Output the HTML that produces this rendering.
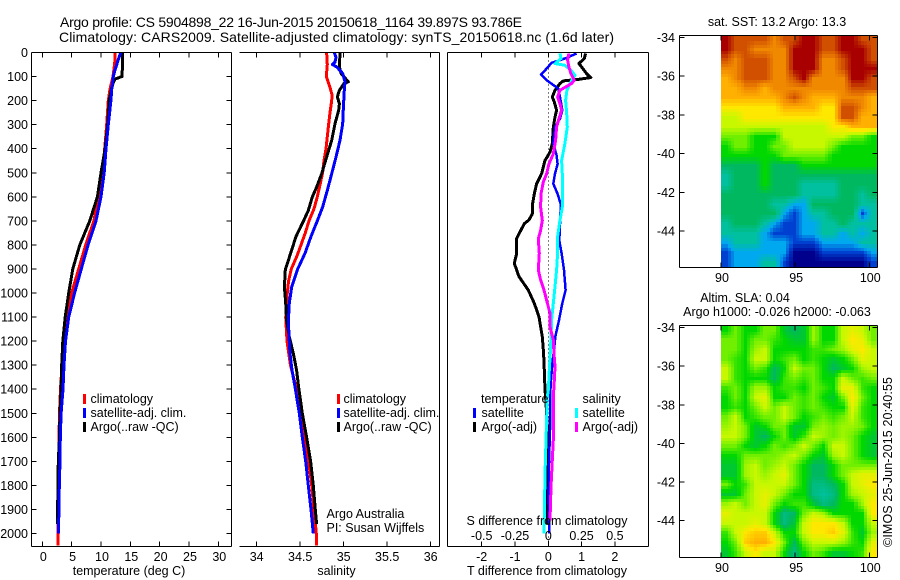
<!DOCTYPE html>
<html lang="en">
<head>
<meta charset="utf-8">
<title>Argo profile</title>
<style>
html,body{margin:0;padding:0;background:#fff;}
svg{display:block;}
text{font-family:"Liberation Sans",Arial,sans-serif;font-size:12.5px;fill:#000;}
.title{font-size:14px;}
.crisp{shape-rendering:crispEdges;}
</style>
</head>
<body>
<svg id="chart" width="900" height="580" viewBox="0 0 900 580" xmlns="http://www.w3.org/2000/svg">
  <rect x="0" y="0" width="900" height="580" fill="#fff"/>
  <text class="title" x="60" y="27" textLength="462">Argo profile: CS 5904898_22 16-Jun-2015 20150618_1164 39.897S 93.786E</text>
  <text class="title" x="59" y="42" textLength="555">Climatology: CARS2009. Satellite-adjusted climatology: synTS_20150618.nc (1.6d later)</text>

  <g id="panel-t"></g>
  <g id="panel-s"></g>
  <g id="panel-d"></g>
  <g id="panel-sst"></g>
  <g id="panel-sla"></g>

  <g>
    <rect x="83" y="394" width="3" height="10" fill="#f00"/>
    <text x="90.5" y="403">climatology</text>
    <rect x="83" y="408" width="3" height="10" fill="#00f"/>
    <text x="90.5" y="417">satellite-adj. clim.</text>
    <rect x="83" y="422" width="3" height="10" fill="#000"/>
    <text x="90.5" y="431">Argo(..raw -QC)</text>
  </g>
  <g>
    <rect x="337" y="394" width="3" height="10" fill="#f00"/>
    <text x="343.5" y="403">climatology</text>
    <rect x="337" y="408" width="3" height="10" fill="#00f"/>
    <text x="343.5" y="417">satellite-adj. clim.</text>
    <rect x="337" y="422" width="3" height="10" fill="#000"/>
    <text x="343.5" y="431">Argo(..raw -QC)</text>
  </g>
  <g>
    <text x="481" y="403">temperature</text>
    <text x="582.5" y="403">salinity</text>
    <rect x="473" y="408" width="3" height="10" fill="#00f"/>
    <text x="481.5" y="417">satellite</text>
    <rect x="473" y="422" width="3" height="10" fill="#000"/>
    <text x="481.5" y="431">Argo(-adj)</text>
    <rect x="575" y="408" width="3" height="10" fill="#0ff"/>
    <text x="582.5" y="417">satellite</text>
    <rect x="575" y="422" width="3" height="10" fill="#f0f"/>
    <text x="582.5" y="431">Argo(-adj)</text>
  </g>

  <text x="129" y="575" text-anchor="middle">temperature (deg C)</text>
  <text x="336.5" y="575" text-anchor="middle">salinity</text>
  <text x="547" y="575" text-anchor="middle">T difference from climatology</text>
  <text x="547" y="525" text-anchor="middle">S difference from climatology</text>
  <text x="326.5" y="518">Argo Australia</text>
  <text x="326.5" y="532">PI: Susan Wijffels</text>
  <text x="777" y="26" text-anchor="middle">sat. SST: 13.2 Argo: 13.3</text>
  <text x="745" y="302" text-anchor="middle">Altim. SLA: 0.04</text>
  <text x="777" y="316" text-anchor="middle">Argo h1000: -0.026 h2000: -0.063</text>
  <text x="0" y="0" transform="translate(892 547) rotate(-90)" textLength="170">©IMOS 25-Jun-2015 20:40:55</text>
</svg>
<script>
// ---------- data ----------
const depthTicks = [0,100,200,300,400,500,600,700,800,900,1000,1100,1200,1300,1400,1500,1600,1700,1800,1900,2000];
const tempTicks = [0,5,10,15,20,25,30];
const salTicks = [34,34.5,35,35.5,36];
const tDiffTicks = [-2,-1,0,1,2];
const sDiffTicks = [-0.5,-0.25,0,0.25,0.5];
const latTicks = [-34,-36,-38,-40,-42,-44];
const lonTicks = [90,95,100];

const climTempDepth = [0,25,50,100,150,200,300,400,500,600,700,800,900,1000,1100,1200,1300,1400,1500,1600,1700,1800,1900,2000,2050];
const climTempValue = [12.4,12.4,12.3,12.05,11.55,11.25,10.98,10.64,10.26,9.6,8.8,7.4,6.2,5,4.2,3.6,3.35,3.1,2.93,2.85,2.8,2.73,2.68,2.65,2.65];
const satTempDepth = [0,25,50,75,100,150,200,300,400,500,600,700,800,900,1000,1100,1200,1300,1400,1500,1600,1700,1800,1900,2000];
const satTempValue = [13.35,13,12.7,12.35,12.1,11.85,11.7,11.25,10.85,10.55,10,9.15,7.8,6.65,5.5,4.5,3.95,3.7,3.53,3.2,3.07,3.02,2.9,2.85,2.73];
const argoTempDepth = [0,50,100,110,125,150,200,300,400,500,600,700,800,900,1000,1100,1200,1300,1400,1500,1600,1700,1800,1900,1960];
const argoTempValue = [13.7,13.65,13.6,12.4,12.1,11.8,11.4,11.15,10.7,10,9.4,8.1,6.4,5.2,4.5,3.9,3.5,3.3,3.19,3,2.93,2.73,2.68,2.6,2.6];

const climSalDepth = [0,50,100,125,150,175,200,250,300,350,400,450,500,550,600,650,700,750,800,850,900,950,1000,1100,1200,1300,1400,1500,1600,1700,1800,1900,2000,2050];
const climSalValue = [34.804,34.812,34.8,34.823,34.846,34.866,34.862,34.842,34.827,34.812,34.797,34.774,34.758,34.728,34.697,34.659,34.601,34.559,34.509,34.459,34.398,34.367,34.352,34.333,34.348,34.387,34.459,34.509,34.559,34.597,34.632,34.659,34.685,34.689];
const satSalDepth = [0,20,40,50,60,87,122,157,226,296,365,435,504,574,643,696,765,835,904,974,1043,1113,1182,1251,1321,1390,1500,1600,1700,1800,1900,2000];
const satSalValue = [34.892,34.911,34.9,34.869,34.919,34.988,35.015,35.007,34.996,34.988,34.957,34.911,34.862,34.812,34.758,34.701,34.624,34.555,34.467,34.402,34.375,34.364,34.371,34.383,34.406,34.44,34.49,34.524,34.563,34.593,34.624,34.651];
const argoSalDepth = [0,60,87,122,129,157,185,212,240,296,365,435,504,560,601,657,696,765,835,904,974,1043,1113,1182,1251,1321,1390,1500,1600,1700,1800,1900,1960];
const argoSalValue = [34.957,34.95,34.969,35.053,35.003,34.95,34.927,34.95,34.942,34.9,34.862,34.804,34.747,34.689,34.639,34.593,34.544,34.452,34.39,34.329,34.318,34.333,34.344,34.375,34.421,34.459,34.482,34.524,34.574,34.62,34.651,34.674,34.689];

const diffTSatDepth = [4,25,43,67,92,115,150,185,240,275,310,379,428,463,504,546,588,629,657,782,835,904,988,1043,1113,1182,1238,1293,1363,1431,1570,1709,1848,2000];
const diffTSatValue = [0.85,0.5,0.1,-0.05,-0.22,-0.05,0.3,0.35,0.42,0.35,0.2,0.15,0.25,0.28,0.2,0.15,0.28,0.37,0.37,0.33,0.4,0.47,0.52,0.42,0.32,0.21,0.17,0.12,0.08,0.05,0.05,0.02,0,0.03];
const diffTArgoDepth = [4,25,46,60,88,104,112,118,129,157,185,206,240,268,310,379,414,449,504,546,588,629,671,696,712,738,772,835,877,932,988,1043,1099,1182,1251,1321,1404,1431,1570,1709,1848,1960];
const diffTArgoValue = [1.12,1.08,0.92,1,1.15,1.28,0.9,0.45,0.35,0.2,0.12,0.18,0.25,0.2,0.15,0.12,0.05,-0.1,-0.2,-0.35,-0.42,-0.47,-0.48,-0.58,-0.72,-0.82,-0.95,-0.95,-1.02,-0.88,-0.6,-0.42,-0.28,-0.18,-0.14,-0.12,-0.1,-0.08,-0.02,-0.01,-0.03,-0.02];
const diffSSatDepth = [4,25,46,53,74,95,122,157,199,254,310,379,449,504,574,643,696,765,835,904,974,1043,1113,1182,1251,1321,1404,1431,1570,1709,1848,2000];
const diffSSatValue = [0.0875,0.095,0.05,0.125,0.17,0.2,0.17,0.14,0.13,0.138,0.143,0.125,0.1,0.105,0.108,0.105,0.0875,0.07,0.07,0.0625,0.05,0.0375,0.025,0.02,0.015,0.0075,0,-0.0075,-0.015,-0.0225,-0.0275,-0.0325];
const diffSArgoDepth = [4,32,60,88,115,129,157,185,213,240,275,310,365,421,463,504,539,588,643,699,740,775,835,904,946,988,1029,1085,1140,1196,1251,1307,1390,1431,1612,1695,1806,1945];
const diffSArgoValue = [0.155,0.145,0.155,0.17,0.195,0.175,0.0875,0.07,0.0875,0.1,0.08,0.0625,0.055,0.0375,0.005,-0.0125,-0.0375,-0.055,-0.0575,-0.045,-0.0575,-0.075,-0.0675,-0.075,-0.0575,-0.0325,-0.0125,0.0125,0.0125,0.0375,0.0425,0.05,0.0425,0.0375,0.0375,0.03,0.02,0.0125];

const sstGrid = [
[12,11,11,11,11,10,11,11,12,12,11,11,12,12,11,11],
[12,11,11,10,10,10,10,12,12,12,11,11,12,12,12,11],
[11,10,11,11,11,10,10,12,12,12,10,10,11,12,12,11],
[10,10,11,11,11,10,10,12,12,12,10,10,11,12,12,12],
[9,10,11,11,11,10,10,11,12,10,10,10,10,12,12,11],
[9,9,10,10,9,10,10,10,10,10,10,10,10,11,11,11],
[9,9,9,9,9,9,10,11,10,9,9,9,10,10,10,9],
[8,8,8,8,8,8,9,9,9,9,8,8,11,11,10,9],
[7,7,8,8,8,8,8,8,8,8,8,8,11,11,9,9],
[7,7,7,7,7,7,7,7,7,7,7,8,8,9,9,9],
[6,6,6,5,5,5,7,7,7,7,7,7,7,6,6,5],
[5,6,6,5,5,6,6,7,7,7,7,6,5,5,5,5],
[5,5,5,5,5,5,6,6,6,6,6,5,5,5,5,5],
[4,4,4,4,5,4,4,4,5,5,5,5,5,5,5,5],
[3,4,4,4,5,4,4,4,4,4,4,4,4,4,4,4],
[3,4,4,4,5,4,4,4,3,3,3,3,4,4,4,4],
[4,4,4,4,4,4,4,4,3,3,3,3,4,4,3,4],
[4,4,4,4,4,3,3,2,2,4,4,4,4,4,3,3],
[4,4,4,4,4,4,2,1,2,3,3,4,4,4,1,3],
[3,4,4,4,3,2,1,1,2,2,3,3,4,3,3,3],
[3,3,3,3,2,1,1,1,2,2,3,3,2,3,2,3],
[2,3,3,3,2,2,2,1,1,1,2,2,2,2,3,3],
[1,2,2,2,2,2,2,0,0,0,1,1,1,1,1,2],
[1,2,2,2,3,3,1,0,0,0,0,0,0,0,0,1]
];
const slaGrid = [
[5,6,5,5,6,6,4.5,4,4.5,6.5,5,5,7,7.5,7,6],
[6,6,5,6,6,5.5,5,4.5,4.5,6.5,5,5,7,8,7.5,6],
[6,6,5,6.5,7,5,5,5,5,5.5,5.5,6,6.5,7.5,8,7],
[6,5.5,5,7,7,5,5.5,6,5,5.5,5,4.5,5,6,7.5,7],
[7,5.5,5,6,5.5,4,5,7,6,6,5,4,4.5,5,6.5,7],
[7,5.5,5,5,5,4,5.5,6,5.5,6,5,5,7,6,5.5,6],
[5.5,6,5,6.5,6.5,5,5.5,5.5,5,6,5.5,5,7.5,7.5,5.5,5],
[5,6,5,7,7.5,5,5,6,5.5,6,5,4.5,6,8,6,5],
[5,5.5,5,6,7,6,7,6,5.5,6,5.5,5,5,7.5,5.5,5],
[6,7,5,5.5,6,6,7,6,5,5.5,6,5.5,6,7,5.5,5],
[6.5,7,6,4.5,5,6,6,4.5,4.5,6,6.5,6,6.5,6.5,6,5],
[7,7,6,4.5,4,5,6,4.5,5.5,7,6.5,6,6.5,6,5,4.5],
[6,6,5,4.5,5,6,5.5,6,7,6,5,7,7,6,5,4.5],
[5,5,6,6,6,6,6.5,7,6,5,4.5,6.5,7,6,5,4.5],
[4.5,4.5,6.5,7,6,6.5,7,6,5,4,4,5,6,6,6,6],
[4.5,4.5,6.5,7,6.5,7,7.5,6,5,4,4,5,6,7,7.5,7.5],
[6,5,5.5,7,7,7,7,6,5,3.5,3.5,4,5,7,7.5,8],
[4.5,4.5,6,7,7.5,7,6,5,5,3.5,3,3.5,5,6.5,7,7.5],
[6.5,7,6,7,7.5,6,5,5.5,5.5,4.5,3.5,4,5,5,6.5,8],
[7.5,7,7,7,7,5,3.5,4,6,7,6.5,5,5,5,5,8],
[7,7,7,7.5,7,5,3.5,4.5,7,8,8,8,7,5,5,7],
[5.5,7,8,8.5,8.5,7,5,5,7,8,8,8.5,7.5,5.5,4.5,6.5],
[5,6,8.5,9,9,8,6,4,6,7,7,7,6.5,5.5,5,7.5],
[4.5,5.5,7,8,7,7,5,3.5,5,6,5.5,4.5,4.5,5,5.5,8]
];
const colourRamp = [[0,0,140],[0,64,208],[0,168,240],[0,192,160],[0,184,96],[0,216,0],[112,240,0],[200,248,0],[255,232,0],[255,176,0],[240,136,0],[208,80,0],[168,0,0]];

// ---------- scales ----------
const yDepth = d => 52.5 + d * 0.2405;
const xTemp = t => 42.3 + t * 5.867;
const xSal = s => 256.7 + (s - 34) * 87;
const xDiffT = t => 548.3 + t * 33.3;
const xDiffS = s => 548.3 + s * 133.2;
const xLon = lon => 721 + (lon - 90) * 14.83;
const ySst = lat => 37.3 + (-34 - lat) * 19.37;
const ySla = lat => 327.5 + (-34 - lat) * 19.32;

const NS = 'http://www.w3.org/2000/svg';
function make(parent, tag, attrs) {
  const el = document.createElementNS(NS, tag);
  for (const k in attrs) el.setAttribute(k, attrs[k]);
  parent.appendChild(el);
  return el;
}
function hLine(parent, x1, x2, y, name) {
  const el = make(parent, 'line', {x1: x1, x2: x2, y1: y, y2: y, stroke: '#000', 'stroke-width': 1, class: 'crisp'});
  
  
}
function vLine(parent, x, y1, y2, name) {
  const el = make(parent, 'line', {x1: x, x2: x, y1: y1, y2: y2, stroke: '#000', 'stroke-width': 1, class: 'crisp'});
  
  
}
function label(parent, x, y, str, anchor, name) {
  const el = make(parent, 'text', {x: x, y: y, 'text-anchor': anchor});
  el.textContent = str;
  
  
}
function series(parent, depths, values, xf, colour, width, name) {
  const pts = depths.map((d, i) => xf(values[i]).toFixed(1) + ',' + yDepth(d).toFixed(1)).join(' ');
  const el = make(parent, 'polyline', {points: pts, fill: 'none', stroke: colour, 'stroke-width': width, class: 'crisp', 'stroke-linejoin': 'round'});
  
  
}
function rampColour(v) {
  const lo = Math.max(0, Math.min(colourRamp.length - 1, Math.floor(v)));
  const hi = Math.min(colourRamp.length - 1, lo + 1);
  const f = Math.max(0, Math.min(1, v - lo));
  const c = colourRamp[lo].map((a, i) => Math.round(a + (colourRamp[hi][i] - a) * f));
  return 'rgb(' + c.join(',') + ')';
}
function shadedValue(grid, fr, fc) {
  const rows = grid.length, cols = grid[0].length;
  const r = Math.max(0, Math.min(rows - 1, fr - 0.5));
  const c = Math.max(0, Math.min(cols - 1, fc - 0.5));
  const r0 = Math.floor(r), c0 = Math.floor(c);
  const r1 = Math.min(rows - 1, r0 + 1), c1 = Math.min(cols - 1, c0 + 1);
  const dr = r - r0, dc = c - c0;
  return grid[r0][c0] * (1 - dr) * (1 - dc) + grid[r0][c1] * (1 - dr) * dc + grid[r1][c0] * dr * (1 - dc) + grid[r1][c1] * dr * dc;
}
function heatmap(parent, grid, yf, latTop, latBottom, lonRight, name) {
  const rows = grid.length, cols = grid[0].length, sub = 3;
  for (let r = 0; r < rows * sub; r++) {
    for (let c = 0; c < cols * sub; c++) {
      const fr = r / sub, fc = c / sub;
      const x0 = Math.round(xLon(90 + (lonRight - 90) * fc / cols));
      const x1 = Math.round(xLon(90 + (lonRight - 90) * (fc + 1 / sub) / cols));
      const y0 = Math.round(yf(latTop + (latBottom - latTop) * fr / rows));
      const y1 = Math.round(yf(latTop + (latBottom - latTop) * (fr + 1 / sub) / rows));
      const v = shadedValue(grid, fr + 0.5 / sub, fc + 0.5 / sub);
      const el = make(parent, 'rect', {x: x0, y: y0, width: x1 - x0, height: y1 - y0, fill: rampColour(v), class: 'crisp'});
      
      
    }
  }
}
function frame(parent, l, r, t, b, sides) {
  if (sides.includes('t')) hLine(parent, l, r, t, 'axis-top');
  if (sides.includes('b')) hLine(parent, l, r, b, 'axis-bottom');
  if (sides.includes('l')) vLine(parent, l, t, b, 'axis-left');
  if (sides.includes('r')) vLine(parent, r, t, b, 'axis-right');
}

// ---------- temperature panel ----------
const pT = document.getElementById('panel-t');
series(pT, climTempDepth, climTempValue, xTemp, '#f00', 3, 'line-climatology');
series(pT, argoTempDepth, argoTempValue, xTemp, '#000', 3, 'line-argo');
series(pT, satTempDepth, satTempValue, xTemp, '#00f', 3, 'line-satellite-adj');
frame(pT, 31.5, 231.5, 52.5, 546.5, 'tblr');
depthTicks.forEach(d => {
  hLine(pT, 31.5, 36.5, yDepth(d), 'y-tick-left');
  hLine(pT, 226.5, 231.5, yDepth(d), 'y-tick-right');
  label(pT, 28, yDepth(d) + 4.5, String(d), 'end', 'y-tick-label');
});
tempTicks.forEach(t => {
  vLine(pT, xTemp(t), 52.5, 57.5, 'x-tick-top');
  vLine(pT, xTemp(t), 541.5, 546.5, 'x-tick-bottom');
  label(pT, xTemp(t) + 1, 561, String(t), 'middle', 'x-tick-label');
});

// ---------- salinity panel ----------
const pS = document.getElementById('panel-s');
series(pS, climSalDepth, climSalValue, xSal, '#f00', 3, 'line-climatology');
series(pS, argoSalDepth, argoSalValue, xSal, '#000', 3, 'line-argo');
series(pS, satSalDepth, satSalValue, xSal, '#00f', 3, 'line-satellite-adj');
frame(pS, 239.5, 439.5, 52.5, 546.5, 'tbr');
salTicks.forEach(s => {
  vLine(pS, xSal(s), 52.5, 57.5, 'x-tick-top');
  vLine(pS, xSal(s), 541.5, 546.5, 'x-tick-bottom');
  label(pS, xSal(s), 561, String(s), 'middle', 'x-tick-label');
});

// ---------- difference panel ----------
const pD = document.getElementById('panel-d');
const zeroLine = make(pD, 'line', {x1: 548.5, x2: 548.5, y1: 52.5, y2: 546.5, stroke: '#000', 'stroke-width': 1, 'stroke-dasharray': '1 3', class: 'crisp'});


series(pD, diffTArgoDepth, diffTArgoValue, xDiffT, '#000', 3, 'line-t-argo');
series(pD, diffTSatDepth, diffTSatValue, xDiffT, '#00f', 2.5, 'line-t-satellite');
series(pD, diffSSatDepth, diffSSatValue, xDiffS, '#0ff', 3, 'line-s-satellite');
series(pD, diffSArgoDepth, diffSArgoValue, xDiffS, '#f0f', 3, 'line-s-argo');
frame(pD, 447.5, 648.5, 52.5, 546.5, 'tblr');
tDiffTicks.forEach(t => {
  vLine(pD, xDiffT(t), 52.5, 57.5, 'x-tick-top');
  vLine(pD, xDiffT(t), 541.5, 546.5, 'x-tick-bottom');
  label(pD, xDiffT(t), 561, String(t), 'middle', 'x-tick-label');
});
sDiffTicks.forEach(s => {
  label(pD, xDiffS(s), 540, String(s), 'middle', 's-tick-label');
});

// ---------- maps ----------
function mapPanel(parent, grid, yf, top, bottom, latTop, latBottom) {
  heatmap(parent, grid, yf, latTop, latBottom, 100.52, 'map-cell');
  frame(parent, 679.5, 877.5, top + 0.5, bottom + 0.5, 'tblr');
  latTicks.forEach(lat => {
    hLine(parent, 679.5, 684.5, yf(lat), 'lat-tick-left');
    hLine(parent, 872.5, 877.5, yf(lat), 'lat-tick-right');
    label(parent, 675, yf(lat) + 4.5, String(lat), 'end', 'lat-tick-label');
  });
  lonTicks.forEach(lon => {
    vLine(parent, xLon(lon), top + 0.5, top + 5.5, 'lon-tick-top');
    vLine(parent, xLon(lon), bottom - 4.5, bottom + 0.5, 'lon-tick-bottom');
    label(parent, xLon(lon) + 1, bottom + 15, String(lon), 'middle', 'lon-tick-label');
  });
}
mapPanel(document.getElementById('panel-sst'), sstGrid, ySst, 35, 267, -33.88, -45.86);
mapPanel(document.getElementById('panel-sla'), slaGrid, ySla, 325, 557, -33.88, -45.88);
</script>
</body>
</html>
